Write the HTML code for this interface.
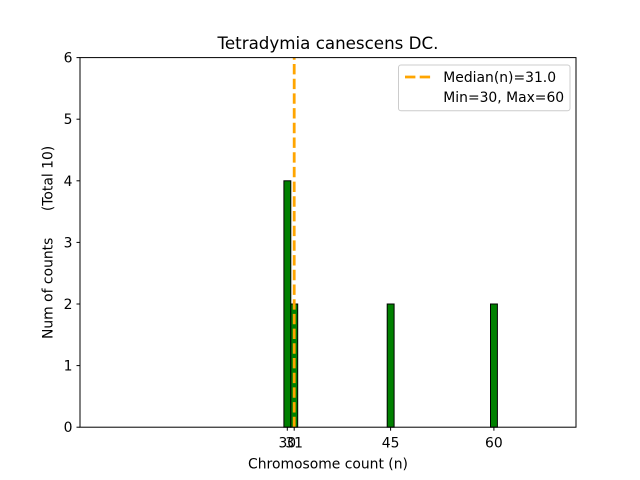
<!DOCTYPE html>
<html><head><meta charset="utf-8"><style>
html,body{margin:0;padding:0;background:#fff;}
svg{display:block;}
text{font-family:"DejaVu Sans","Liberation Sans",sans-serif;fill:#000;}
</style></head><body>
<svg width="640" height="480" viewBox="0 0 640 480" xmlns="http://www.w3.org/2000/svg">
<rect width="640" height="480" fill="#fff"/>
<!-- bars -->
<g fill="#008000" stroke="#000" stroke-width="1">
<rect x="283.9" y="180.8" width="6.9" height="246.4"/>
<rect x="290.8" y="304" width="6.9" height="123.2"/>
<rect x="387.2" y="304" width="6.9" height="123.2"/>
<rect x="490.5" y="304" width="6.9" height="123.2"/>
</g>
<!-- median line -->
<line x1="294.2" y1="427.2" x2="294.2" y2="57.6" stroke="#FFA500" stroke-width="2.8" stroke-dasharray="10.4 4.3"/>
<!-- axes spines -->
<rect x="80" y="57.6" width="496" height="369.6" fill="none" stroke="#000" stroke-width="1"/>
<!-- y ticks -->
<g stroke="#000" stroke-width="1">
<line x1="76.5" y1="427.2" x2="80" y2="427.2"/>
<line x1="76.5" y1="365.6" x2="80" y2="365.6"/>
<line x1="76.5" y1="304" x2="80" y2="304"/>
<line x1="76.5" y1="242.4" x2="80" y2="242.4"/>
<line x1="76.5" y1="180.8" x2="80" y2="180.8"/>
<line x1="76.5" y1="119.2" x2="80" y2="119.2"/>
<line x1="76.5" y1="57.6" x2="80" y2="57.6"/>
<line x1="287.3" y1="427.2" x2="287.3" y2="430.7"/>
<line x1="294.2" y1="427.2" x2="294.2" y2="430.7"/>
<line x1="390.6" y1="427.2" x2="390.6" y2="430.7"/>
<line x1="493.9" y1="427.2" x2="493.9" y2="430.7"/>
</g>
<g font-size="13.9" text-anchor="end">
<text x="72.5" y="432.2">0</text>
<text x="72.5" y="370.6">1</text>
<text x="72.5" y="309">2</text>
<text x="72.5" y="247.4">3</text>
<text x="72.5" y="185.8">4</text>
<text x="72.5" y="124.2">5</text>
<text x="72.5" y="62.6">6</text>
</g>
<g font-size="13.9" text-anchor="middle">
<text x="287.3" y="447.3">30</text>
<text x="294.2" y="447.3">31</text>
<text x="390.6" y="447.3">45</text>
<text x="493.9" y="447.3">60</text>
<text x="328" y="468.3">Chromosome count (n)</text>
<text x="328" y="49" font-size="16.7">Tetradymia canescens DC.</text>
<text transform="translate(52.5,242.4) rotate(-90)" style="white-space:pre" xml:space="preserve">Num of counts      (Total 10)</text>
</g>
<!-- legend -->
<rect x="398.5" y="65" width="171.5" height="45.7" rx="2.5" ry="2.5" fill="#fff" fill-opacity="0.8" stroke="#cccccc" stroke-width="1"/>
<line x1="405" y1="77" x2="431" y2="77" stroke="#FFA500" stroke-width="2.8" stroke-dasharray="10.4 4.3"/>
<g font-size="13.9">
<text x="443.3" y="82">Median(n)=31.0</text>
<text x="443.3" y="102.2">Min=30, Max=60</text>
</g>
</svg>
</body></html>
